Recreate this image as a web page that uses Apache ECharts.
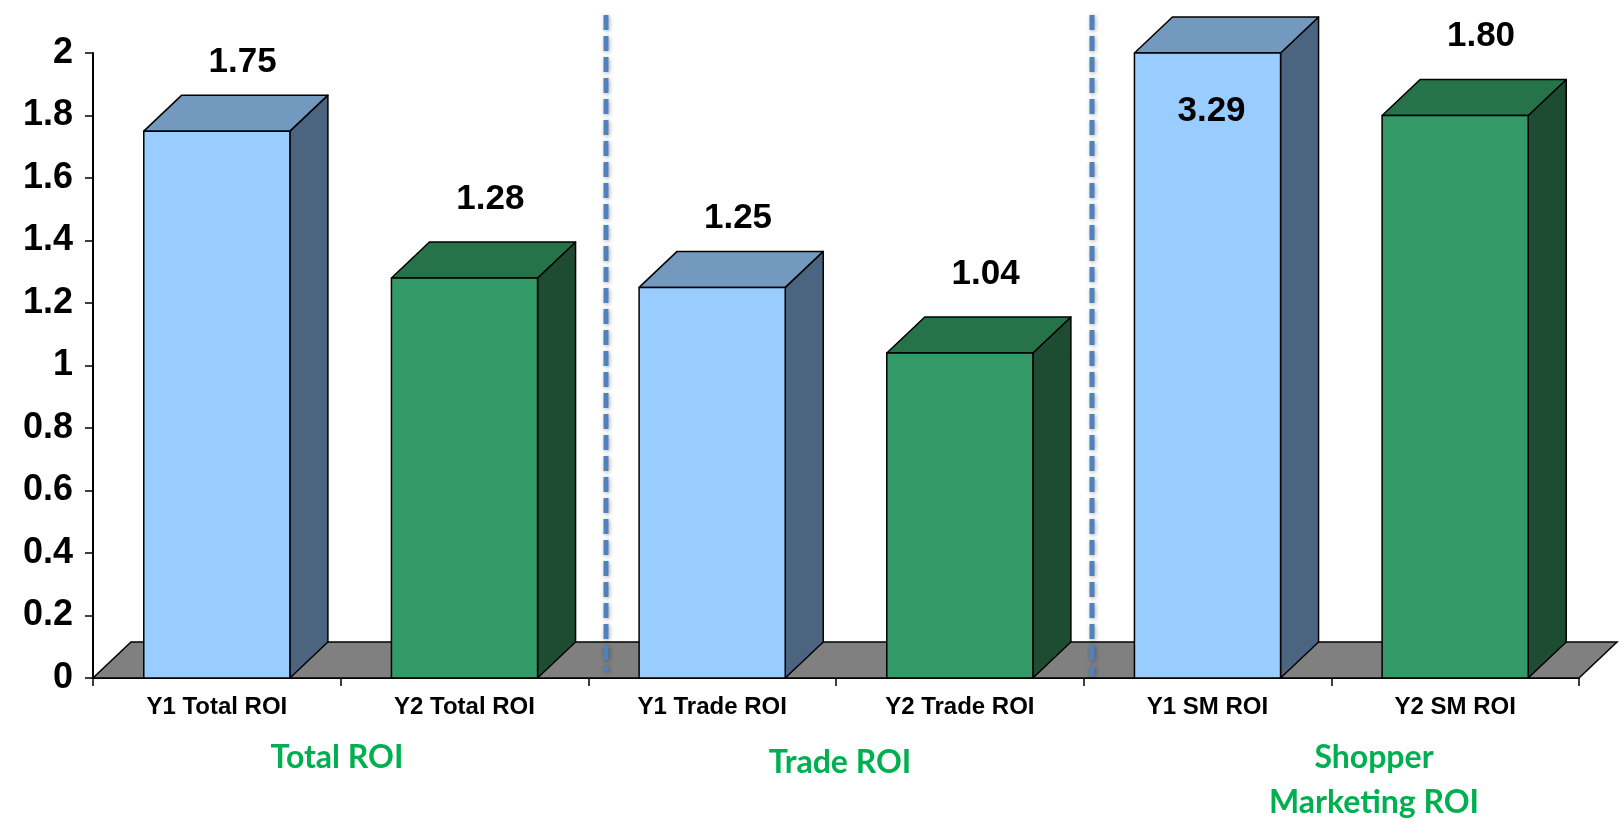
<!DOCTYPE html>
<html>
<head>
<meta charset="utf-8">
<title>ROI comparison</title>
<script src="https://cdn.jsdelivr.net/npm/echarts@6/dist/echarts.min.js"></script>
<style>
  html, body { margin: 0; padding: 0; background: #fff; }
  #chart { width: 1623px; height: 822px; }
</style>
</head>
<body>
<div id="chart"></div>
<script>
// Categories along the x axis, one bar each
const categories = ['Y1 Total ROI', 'Y2 Total ROI', 'Y1 Trade ROI', 'Y2 Trade ROI', 'Y1 SM ROI', 'Y2 SM ROI'];
// ROI per category (Y1 SM ROI exceeds the axis range and is cut at the top)
const roiValues = [1.75, 1.28, 1.25, 1.04, 3.29, 1.80];
// Year of each category: 0 = Y1, 1 = Y2
const yearOfCategory = [0, 1, 0, 1, 0, 1];
// Group captions under the axis
const groupNames = ['Total ROI', 'Trade ROI', 'Shopper\nMarketing ROI'];
// Value axis ticks
const yMin = 0, yMax = 2, yStep = 0.2;

// Pseudo-3D depth of the boxes and the floor
const DEPTH_X = 38, DEPTH_Y = 36;
const BAR_RATIO = 0.59;

const palette = [
  { front: '#99CCFF', top: '#7399BF', side: '#4B6580', labelLift: 33 },
  { front: '#339966', top: '#267349', side: '#1D4C33', labelLift: 43 }
];

const yearData = [[], []];
roiValues.forEach(function (v, i) { yearData[yearOfCategory[i]].push([i, v]); });

function makeBarRenderer(style) {
  return function (params, api) {
    const i = api.value(0);
    const raw = api.value(1);
    const v = Math.min(raw, yMax);
    const base = api.coord([i, 0]);
    const top = api.coord([i, v]);
    const w = api.size([1, 0])[0] * BAR_RATIO;
    const x0 = base[0] - w / 2, x1 = base[0] + w / 2;
    const y0 = base[1], y1 = top[1];
    const stroke = { stroke: '#000', lineWidth: 1.5, lineJoin: 'round' };
    const children = [
      { type: 'polygon', shape: { points: [[x1, y1], [x1, y0], [x1 + DEPTH_X, y0 - DEPTH_Y], [x1 + DEPTH_X, y1 - DEPTH_Y]] },
        style: Object.assign({ fill: style.side }, stroke) },
      { type: 'polygon', shape: { points: [[x0, y1], [x1, y1], [x1 + DEPTH_X, y1 - DEPTH_Y], [x0 + DEPTH_X, y1 - DEPTH_Y]] },
        style: Object.assign({ fill: style.top }, stroke) },
      { type: 'rect', shape: { x: x0, y: y1, width: w, height: y0 - y1 },
        style: Object.assign({ fill: style.front }, stroke) }
    ];
    const clipped = raw > yMax;
    children.push({
      type: 'text',
      style: {
        text: raw.toFixed(2),
        x: clipped ? base[0] + 4 : base[0] + DEPTH_X * 0.68,
        y: clipped ? y1 + 58 : y1 - DEPTH_Y - style.labelLift,
        align: 'center', verticalAlign: 'middle',
        font: 'bold 35px "Liberation Sans", Arial, sans-serif',
        fill: '#000'
      }
    });
    return { type: 'group', children: children };
  };
}

function renderFloor(params) {
  const cs = params.coordSys;
  const yb = cs.y + cs.height;
  return {
    type: 'polygon',
    shape: { points: [[cs.x, yb], [cs.x + cs.width, yb], [cs.x + cs.width + DEPTH_X, yb - DEPTH_Y], [cs.x + DEPTH_X, yb - DEPTH_Y]] },
    style: { fill: '#808080', stroke: '#000', lineWidth: 1.5 }
  };
}

const chart = echarts.init(document.getElementById('chart'), null, { renderer: 'canvas' });

const dashStyle = {
  stroke: '#4F81BD', lineWidth: 5, lineDash: [15, 6],
  shadowBlur: 4, shadowColor: 'rgba(0,0,0,0.35)', shadowOffsetX: 1, shadowOffsetY: 1
};
const groupFont = 'bold 32px Lato, "Open Sans", sans-serif';

chart.setOption({
  animation: false,
  backgroundColor: '#fff',
  grid: { left: 93, right: 44, top: 53, bottom: 144, containLabel: false },
  xAxis: {
    type: 'category',
    data: categories,
    boundaryGap: true,
    axisLine: { show: true, lineStyle: { color: '#000', width: 2 } },
    axisTick: { show: true, length: 8, lineStyle: { color: '#000', width: 1.5 } },
    axisLabel: { margin: 17, color: '#000', fontSize: 24, fontWeight: 'bold', fontFamily: '"Liberation Sans", Arial, sans-serif' },
    splitLine: { show: false }
  },
  yAxis: {
    type: 'value',
    min: yMin, max: yMax, interval: yStep,
    axisLine: { show: true, lineStyle: { color: '#000', width: 2 } },
    axisTick: { show: true, length: 8, lineStyle: { color: '#000', width: 1.5 } },
    axisLabel: {
      margin: 20, color: '#000', fontSize: 36, fontWeight: 'bold',
      fontFamily: '"Liberation Sans", Arial, sans-serif',
      formatter: function (v) { return String(Math.round(v * 10) / 10); }
    },
    splitLine: { show: false }
  },
  series: [
    { type: 'custom', name: 'Floor', data: [[0, 0]], renderItem: renderFloor, z: 1, silent: true },
    { type: 'custom', name: 'Y1', data: yearData[0], renderItem: makeBarRenderer(palette[0]), z: 3, clip: false },
    { type: 'custom', name: 'Y2', data: yearData[1], renderItem: makeBarRenderer(palette[1]), z: 3, clip: false }
  ],
  graphic: [
    { type: 'line', shape: { x1: 606, y1: 15, x2: 606, y2: 671 }, style: dashStyle, z: 10 },
    { type: 'line', shape: { x1: 1092, y1: 15, x2: 1092, y2: 676 }, style: dashStyle, z: 10 },
    { type: 'text', x: 337, y: 758, style: { text: groupNames[0], font: groupFont, fill: '#00B050', align: 'center', verticalAlign: 'middle' } },
    { type: 'text', x: 840, y: 763, style: { text: groupNames[1], font: groupFont, fill: '#00B050', align: 'center', verticalAlign: 'middle' } },
    { type: 'text', x: 1374, y: 780, style: { text: groupNames[2], font: groupFont, fill: '#00B050', align: 'center', verticalAlign: 'middle', lineHeight: 45 } }
  ]
});
</script>
</body>
</html>
